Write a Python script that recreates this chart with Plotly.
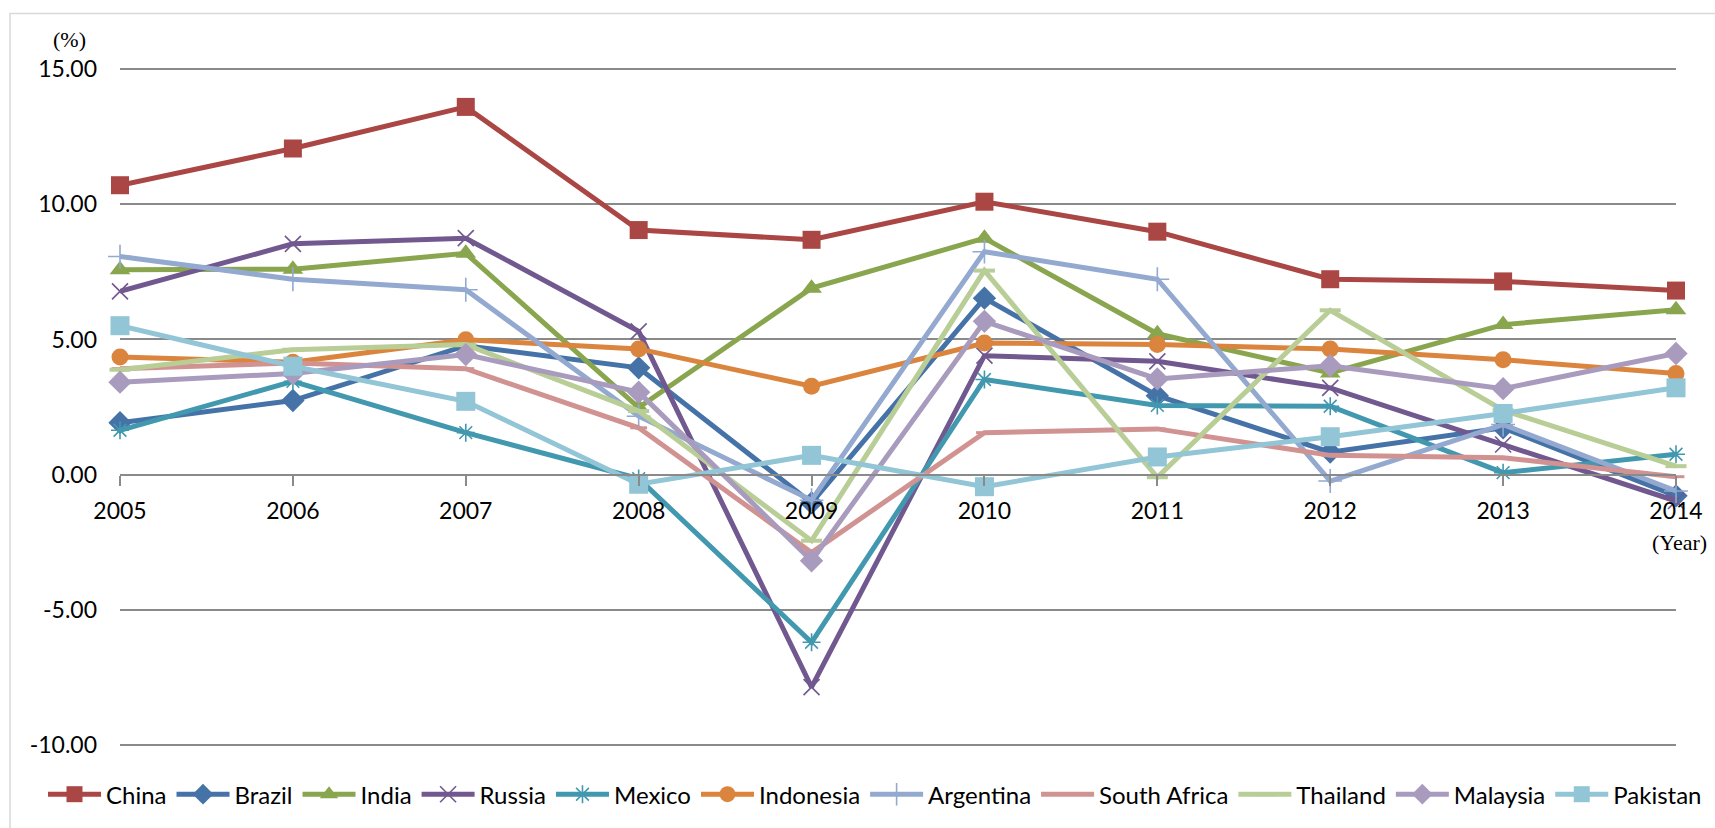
import plotly.graph_objects as go

# Real GDP per capita growth rate (%), 2005-2014
years = [2005, 2006, 2007, 2008, 2009, 2010, 2011, 2012, 2013, 2014]

china        = [10.71, 12.07, 13.61, 9.05, 8.69, 10.10, 8.99, 7.23, 7.15, 6.81]
brazil       = [1.92, 2.74, 4.77, 3.95, -1.05, 6.53, 2.92, 0.83, 1.73, -0.79]
india        = [7.58, 7.60, 8.19, 2.48, 6.90, 8.75, 5.21, 3.76, 5.55, 6.10]
russia       = [6.78, 8.54, 8.75, 5.30, -7.87, 4.40, 4.19, 3.21, 1.11, -0.98]
mexico       = [1.64, 3.45, 1.55, -0.15, -6.21, 3.52, 2.56, 2.53, 0.07, 0.75]
indonesia    = [4.35, 4.16, 4.99, 4.65, 3.27, 4.87, 4.81, 4.65, 4.25, 3.74]
argentina    = [8.07, 7.23, 6.84, 2.16, -0.95, 8.25, 7.23, -0.24, 1.85, -0.61]
south_africa = [3.92, 4.13, 3.92, 1.73, -2.89, 1.55, 1.69, 0.71, 0.62, -0.08]
thailand     = [3.88, 4.62, 4.81, 2.35, -2.45, 7.55, -0.10, 6.08, 2.38, 0.31]
malaysia     = [3.42, 3.74, 4.44, 3.05, -3.19, 5.67, 3.54, 4.03, 3.18, 4.48]
pakistan     = [5.51, 4.01, 2.71, -0.36, 0.71, -0.45, 0.65, 1.40, 2.26, 3.21]

y_tick_values = [-10, -5, 0, 5, 10, 15]
y_tick_labels = ["-10.00", "-5.00", "0.00", "5.00", "10.00", "15.00"]
x_tick_labels = ["2005", "2006", "2007", "2008", "2009", "2010",
                 "2011", "2012", "2013", "2014"]

series = [
    ("China", china, "#AA4643", "square", 18, None),
    ("Brazil", brazil, "#4572A7", "diamond", 18, None),
    ("India", india, "#89A54E", "triangle-up", 18, None),
    ("Russia", russia, "#71588F", "x-thin", 16, 1.6),
    ("Mexico", mexico, "#4198AF", "asterisk", 15, 1.6),
    ("Indonesia", indonesia, "#DB843D", "circle", 17, None),
    ("Argentina", argentina, "#93A9CF", "cross-thin", 17, 1.6),
    ("South Africa", south_africa, "#D19392", "line-ew", 12, 3),
    ("Thailand", thailand, "#B9CD96", "line-ew", 15, 4),
    ("Malaysia", malaysia, "#A99BBD", "diamond", 18, None),
    ("Pakistan", pakistan, "#92C5D5", "square", 19, None),
]

W, H = 1715, 828
Y_LO, Y_HI = -10.05, 15.05          # padded so the outer gridlines are drawn
PX_PER_UNIT = 677 / 25
ML, MR = 120, 39
MT = round(69 - 0.05 * PX_PER_UNIT, 2)
MB = round(82 - 0.05 * PX_PER_UNIT, 2)
PW, PH = W - ML - MR, H - MT - MB


def px_x(x):
    return (x - ML) / PW


def px_y(y):
    return (H - MB - y) / PH


fig = go.Figure()
for name, vals, color, symbol, size, lw in series:
    marker = dict(symbol=symbol, size=size, color=color)
    if lw is not None:
        marker["line"] = dict(color=color, width=lw)
    else:
        marker["line"] = dict(width=0)
    fig.add_trace(go.Scatter(
        x=years, y=vals, name=name, mode="lines+markers",
        line=dict(color=color, width=5),
        marker=marker, cliponaxis=False,
    ))

axis_font = dict(family="Lato", size=23, color="black")

fig.update_layout(
    width=W, height=H,
    margin=dict(l=ML, r=MR, t=MT, b=MB),
    paper_bgcolor="white", plot_bgcolor="white",
    showlegend=True,
    legend=dict(
        orientation="h", x=px_x(43), y=px_y(795),
        xanchor="left", yanchor="middle",
        font=dict(family="Lato", size=24, color="black"),
        itemwidth=53, tracegroupgap=0,
        bgcolor="rgba(0,0,0,0)",
    ),
    xaxis=dict(
        range=[2005, 2014], tickvals=years, ticktext=x_tick_labels,
        anchor="free", position=(0 - Y_LO) / (Y_HI - Y_LO), side="bottom",
        showline=True, linecolor="#8a8a8a", linewidth=2,
        ticks="outside", ticklen=10, tickwidth=1.5, tickcolor="#8a8a8a",
        showgrid=False, zeroline=False, tickfont=axis_font,
        ticklabelstandoff=6,
    ),
    yaxis=dict(
        range=[Y_LO, Y_HI], tickvals=y_tick_values, ticktext=y_tick_labels,
        showgrid=True, gridcolor="#8a8a8a", gridwidth=2,
        zeroline=False, showline=False, ticks="", tickfont=axis_font,
        ticklabelstandoff=22,
    ),
    annotations=[
        dict(text="(%)", x=px_x(69), y=px_y(39), xref="paper", yref="paper",
             showarrow=False, xanchor="center", yanchor="middle",
             font=dict(family="Liberation Serif", size=22, color="black")),
        dict(text="(Year)", x=px_x(1680), y=px_y(543), xref="paper", yref="paper",
             showarrow=False, xanchor="center", yanchor="middle",
             font=dict(family="Liberation Serif", size=22, color="black")),
    ],
    shapes=[
        dict(type="rect", xref="paper", yref="paper", layer="below",
             x0=px_x(10), x1=px_x(W + 20), y0=px_y(H + 20), y1=px_y(13),
             line=dict(color="#d9d9d9", width=1.5), fillcolor="rgba(0,0,0,0)"),
    ],
)

fig.write_html("out.html")
